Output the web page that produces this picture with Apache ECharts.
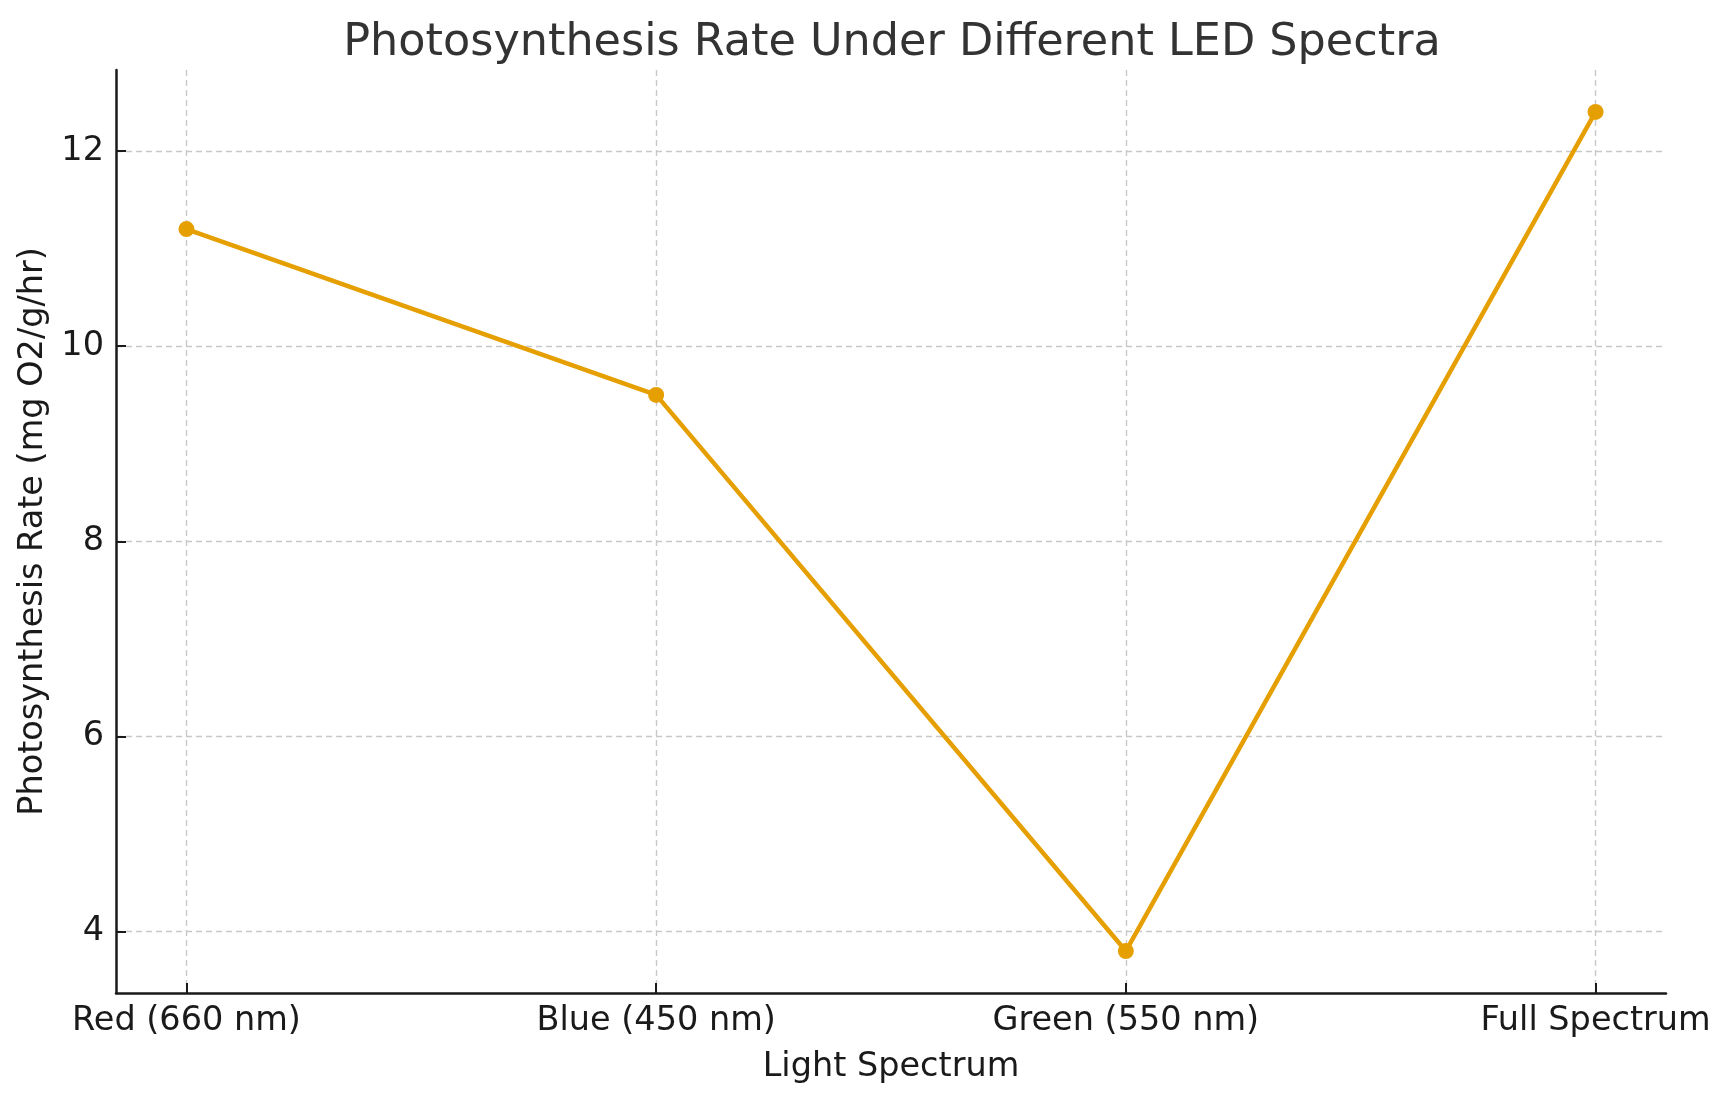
<!DOCTYPE html>
<html lang="en">
<head>
    <meta charset="UTF-8">
    <title>Photosynthesis Rate</title>
    <script type="text/javascript" src="https://cdn.jsdelivr.net/npm/echarts@6/dist/echarts.min.js"></script>
    <style>
        html, body { margin: 0; padding: 0; background: #fff; }
    </style>
</head>
<body>
<div id="container" style="width: 1730px; height: 1101px"></div>
<script type="text/javascript">
    // data
    var categories = ['Red (660 nm)', 'Blue (450 nm)', 'Green (550 nm)', 'Full Spectrum'];
    var rates = [11.2, 9.5, 3.8, 12.4];
    var yTicks = [4, 6, 8, 10, 12];
    var xTicks = [0, 1, 2, 3];

    var font = 'DejaVu Sans';
    var seriesData = [];
    for (var i = 0; i < categories.length; i++) {
        seriesData.push([i, rates[i]]);
    }

    var myChart = echarts.init(document.getElementById('container'));
    var option = {
        animation: false,
        backgroundColor: '#ffffff',
        title: {
            text: 'Photosynthesis Rate Under Different LED Spectra',
            left: 887,
            top: 16,
            textAlign: 'center',
            textStyle: { fontFamily: font, fontSize: 44.5, fontWeight: 'normal', color: '#333333' }
        },
        grid: { left: 116, right: 64, top: 70, bottom: 108 },
        xAxis: {
            type: 'value',
            min: -0.15,
            max: 3.15,
            name: 'Light Spectrum',
            nameLocation: 'middle',
            nameGap: 57,
            nameTextStyle: { fontFamily: font, fontSize: 33.5, color: '#1a1a1a' },
            axisLine: { show: true, onZero: false, lineStyle: { color: '#1a1a1a', width: 2.5 } },
            axisTick: { show: true, inside: true, length: 10, customValues: xTicks, lineStyle: { color: '#1a1a1a', width: 2 } },
            axisLabel: {
                customValues: xTicks,
                margin: 11,
                fontFamily: font, fontSize: 33.5, color: '#1a1a1a',
                formatter: function (v) { return categories[Math.round(v)]; }
            },
            splitLine: { show: true, lineStyle: { color: '#c8c8c8', width: 1.4, type: [6, 4] } }
        },
        yAxis: {
            type: 'value',
            min: 3.37,
            max: 12.83,
            name: 'Photosynthesis Rate (mg O2/g/hr)',
            nameLocation: 'middle',
            nameGap: 54,
            nameRotate: 90,
            nameTextStyle: { fontFamily: font, fontSize: 33.5, color: '#1a1a1a' },
            axisLine: { show: true, onZero: false, lineStyle: { color: '#1a1a1a', width: 2.5 } },
            axisTick: { show: true, inside: true, length: 10, customValues: yTicks, lineStyle: { color: '#1a1a1a', width: 2 } },
            axisLabel: { customValues: yTicks, margin: 12, fontFamily: font, fontSize: 33.5, color: '#1a1a1a' },
            splitLine: { show: true, lineStyle: { color: '#c8c8c8', width: 1.4, type: [6, 4] } }
        },
        series: [{
            type: 'line',
            data: seriesData,
            symbol: 'circle',
            symbolSize: 16,
            lineStyle: { color: '#E69F00', width: 4.5 },
            itemStyle: { color: '#E69F00' }
        }]
    };
    myChart.setOption(option);
</script>
</body>
</html>
